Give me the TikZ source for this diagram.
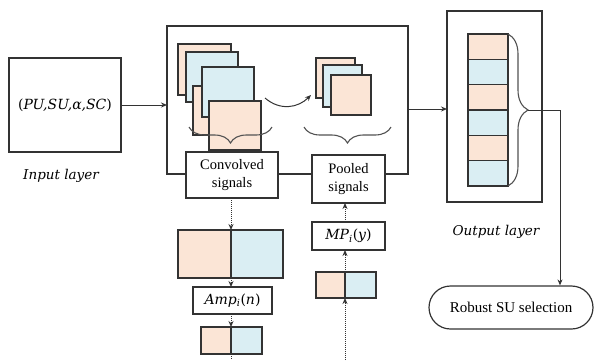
\documentclass[tikz,border=0pt]{standalone}
\usepackage{fontspec}
\setmainfont{Liberation Serif}
\newfontfamily\dvs{DejaVu Serif}
\usetikzlibrary{arrows.meta,decorations.pathreplacing,shapes.misc}
\definecolor{peach}{HTML}{FBE5D6}
\definecolor{aqua}{HTML}{DAEEF3}
\definecolor{linec}{HTML}{333333}
\begin{document}
\begin{tikzpicture}[x=1pt,y=-1pt,
  box/.style={draw=linec, line width=1.2pt, fill=white, inner sep=0pt, outer sep=0pt, font=\fontsize{14.5}{18}\selectfont, align=center},
  sq/.style={draw=linec, line width=1.1pt, inner sep=0pt, outer sep=0pt},
  pe/.style={sq, fill=peach},
  aq/.style={sq, fill=aqua},
  arr/.style={draw=linec, line width=1pt, -{Stealth[length=6pt,width=5pt]}},
  dotarr/.style={arr, densely dotted},
  brc/.style={draw=linec!85, line width=1.1pt, decorate, decoration={brace, amplitude=#1}},
  lbl/.style={font=\fontsize{13.5}{15}\dvs\itshape}
]
\useasboundingbox (0,0) rectangle (595,360);
% input
\node[box, minimum width=112pt, minimum height=94pt] (inp) at (65,105) {\fontsize{14}{15}\dvs(\itshape PU,SU,α,SC\upshape)};
\node[lbl] (inlbl) at (61,176) {Input layer};
% main box
\node[box, minimum width=241pt, minimum height=148pt] (main) at (287.5,100) {};
\draw[arr] (inp.east) -- (inp.east -| main.west);
% convolved stack
\node[pe, minimum width=53pt, minimum height=51pt] (c1) at (204.5,69.5) {};
\node[aq, minimum width=52pt, minimum height=50pt] (c2) at (212,77) {};
\node[pe, minimum width=52pt, minimum height=49pt] (c3) at (219,110.5) {};
\node[aq, minimum width=52pt, minimum height=50pt] (c4) at (228,92) {};
\node[pe, minimum width=52pt, minimum height=49pt] (c5) at (235,125.5) {};
\coordinate (cbr) at (272,127);
\coordinate (cbl) at (189,127);
\draw[brc=16pt] (cbr) -- (cbl);
% pooled stack
\node[pe, minimum width=39pt, minimum height=40pt] (p1) at (335.5,78) {};
\node[aq, minimum width=39pt, minimum height=42pt] (p2) at (342.5,86) {};
\node[pe, minimum width=40pt, minimum height=40pt] (p3) at (351,95) {};
\coordinate (pbr) at (391,127);
\coordinate (pbl) at (304,127);
\draw[brc=16pt] (pbr) -- (pbl);
% curved arrow
\coordinate (ca1) at (265,98);
\coordinate (ca2) at (311,95);
\draw[arr] (ca1) .. controls (280,111) and (298,108) .. (ca2);
% labels boxes
\node[box, minimum width=92pt, minimum height=46pt] (conv) at (232,175) {Convolved\\signals};
\node[box, minimum width=73pt, minimum height=48pt] (pool) at (348.5,179) {Pooled\\signals};
% output layer
\node[box, minimum width=95pt, minimum height=191pt] (out) at (494.5,106.5) {};
\foreach \i/\c in {0/pe,1/aq,2/pe,3/aq,4/pe,5/aq}{
  \node[\c, minimum width=40pt, minimum height=25.33pt] (o\i) at (488,{34+25.33*(\i+0.5)}) {};
}
\draw[brc=20pt] (o0.north east) -- (o5.south east);
\node[lbl] (outlbl) at (496,232) {Output layer};
\coordinate (mo) at (408,109);
\draw[arr] (mo) -- (mo -| out.west);
\node[draw=linec, line width=1.2pt, rounded rectangle, minimum width=164pt, minimum height=43pt, inner sep=0pt, font=\fontsize{15}{17}\selectfont] (rob) at (511,307.5) {Robust SU selection};
\coordinate (bt) at (528,110);
\coordinate (bc) at (560,110);
\draw[arr] (bt) -- (bc) -- (bc |- rob.north);
% left column
\node[pe, minimum width=53pt, minimum height=48pt] (bl) at (204.5,254) {};
\node[aq, minimum width=52pt, minimum height=48pt] (br) at (257,254) {};
\node[box, minimum width=79pt, minimum height=27pt] (amp) at (232.5,300.5) {\fontsize{14}{15}\dvs\itshape Amp\textsubscript{i}\upshape(\itshape n\upshape)};
\node[pe, minimum width=30pt, minimum height=27pt] (sl) at (216,340.5) {};
\node[aq, minimum width=31pt, minimum height=27pt] (sr) at (246.5,340.5) {};
\draw[dotarr] (conv.south -| bl.east) -- (bl.north east);
\draw[dotarr] (bl.south east) -- (amp.north -| bl.east);
\draw[dotarr] (amp.south -| sl.east) -- (sl.north east);
\coordinate (lend) at (231,360);
\draw[linec, line width=1pt, densely dotted] (sl.south east) -- (lend);
% right column
\node[pe, minimum width=29pt, minimum height=26pt] (rl) at (330.5,285) {};
\node[aq, minimum width=31pt, minimum height=26pt] (rr) at (360.5,285) {};
\node[box, minimum width=73pt, minimum height=28pt] (mp) at (348.5,236) {\fontsize{14}{15}\dvs\itshape MP\textsubscript{i}\upshape(\itshape y\upshape)};
\coordinate (rend) at (345,360);
\draw[dotarr] (rend) -- (rl.south east);
\draw[dotarr] (rl.north east) -- (mp.south -| rl.east);
\draw[dotarr] (mp.north -| rl.east) -- (pool.south -| rl.east);
\end{tikzpicture}
\end{document}
